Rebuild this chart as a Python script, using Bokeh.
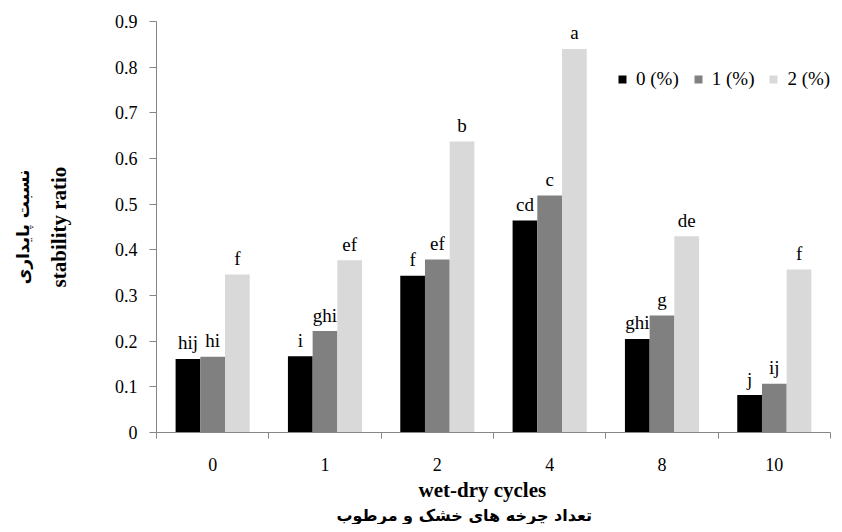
from bokeh.plotting import figure
from bokeh.models import (Range1d, FixedTicker, Title, ColumnDataSource,
                          CustomJSTickFormatter)
from bokeh.transform import dodge
from bokeh.core.properties import value
from bokeh.embed import file_html
from bokeh.resources import INLINE

# ---- data ----
cycles = ["0", "1", "2", "4", "8", "10"]
ratio_0pct = [0.161, 0.167, 0.343, 0.464, 0.205, 0.082]
ratio_1pct = [0.166, 0.222, 0.379, 0.519, 0.256, 0.107]
ratio_2pct = [0.346, 0.377, 0.637, 0.840, 0.430, 0.357]
letters_0pct = ["hij", "i", "f", "cd", "ghi", "j"]
letters_1pct = ["hi", "ghi", "ef", "c", "g", "ij"]
letters_2pct = ["f", "ef", "b", "a", "de", "f"]
series_names = ["0 (%)", "1 (%)", "2 (%)"]
y_ticks = [0.0, 0.1, 0.2, 0.3, 0.4, 0.5, 0.6, 0.7, 0.8, 0.9]
y_tick_labels = ["0", "0.1", "0.2", "0.3", "0.4", "0.5", "0.6", "0.7", "0.8", "0.9"]

colors = ["#000000", "#808080", "#d9d9d9"]
AXIS = "#868686"
SERIF = "Liberation Serif"

xpos = [i + 0.5 for i in range(len(cycles))]
bounds = list(range(len(cycles) + 1))

src = ColumnDataSource(dict(x=xpos, r0=ratio_0pct, r1=ratio_1pct, r2=ratio_2pct,
                            l0=letters_0pct, l1=letters_1pct, l2=letters_2pct))

p = figure(width=834, height=524, output_backend="svg", toolbar_location=None,
           x_range=Range1d(0, len(cycles)), y_range=Range1d(0, 0.9),
           min_border_left=147, min_border_right=4, min_border_top=21,
           min_border_bottom=92)
p.outline_line_color = None
p.xgrid.visible = False
p.ygrid.visible = False

bw = 0.22
offs = [-bw, 0.0, bw]
for k, (col, lab) in enumerate(zip(["r0", "r1", "r2"], ["l0", "l1", "l2"])):
    p.vbar(x=dodge("x", offs[k], range=p.x_range), top=col, width=bw,
           source=src, fill_color=colors[k], line_color=None,
           legend_label=series_names[k])
    p.text(x=dodge("x", offs[k], range=p.x_range), y=col, text=lab, source=src,
           text_font=value(SERIF), text_font_size="19px", text_align="center",
           text_baseline="alphabetic", y_offset=-16, text_color="black")

# ---- x axis ----
xa = p.xaxis[0]
xa.ticker = FixedTicker(ticks=xpos, minor_ticks=bounds)
xa.formatter = CustomJSTickFormatter(args=dict(cat_labels=cycles),
                                     code="return cat_labels[Math.floor(tick)];")
xa.axis_line_color = AXIS
xa.major_tick_line_color = None
xa.major_tick_out = 0
xa.major_tick_in = 0
xa.minor_tick_line_color = AXIS
xa.minor_tick_out = 6
xa.minor_tick_in = 0
xa.major_label_standoff = 19
xa.major_label_text_font = SERIF
xa.major_label_text_font_size = "18px"
xa.major_label_text_color = "black"

# ---- y axis ----
ya = p.yaxis[0]
ya.ticker = FixedTicker(ticks=y_ticks)
ya.formatter = CustomJSTickFormatter(
    args=dict(tv=y_ticks, tl=y_tick_labels),
    code="""let best = 0;
for (let i = 0; i < tv.length; i++) {
  if (Math.abs(tv[i] - tick) < Math.abs(tv[best] - tick)) best = i;
}
return tl[best];""")
ya.axis_line_color = AXIS
ya.major_tick_line_color = AXIS
ya.major_tick_out = 7
ya.major_tick_in = 0
ya.minor_tick_line_color = None
ya.major_label_standoff = 12
ya.major_label_text_font = SERIF
ya.major_label_text_font_size = "18px"
ya.major_label_text_color = "black"
ya.axis_label = "stability ratio"
ya.axis_label_text_font = SERIF
ya.axis_label_text_font_size = "21px"
ya.axis_label_text_font_style = "bold"
ya.axis_label_text_color = "black"
ya.axis_label_standoff = 41

# Axis titles (English + Persian)
p.add_layout(Title(text="نسبت پایداری", text_font="DejaVu Sans",
                   text_font_size="17px", text_font_style="bold",
                   text_color="black", align="center", standoff=21), "left")
p.add_layout(Title(text="wet-dry cycles", text_font=SERIF,
                   text_font_size="21px", text_font_style="bold",
                   text_color="black", align="left", offset=262,
                   standoff=4), "below")
p.add_layout(Title(text="تعداد چرخه های خشک و مرطوب", text_font="DejaVu Sans",
                   text_font_size="16px", text_font_style="bold",
                   text_color="black", align="left", offset=180,
                   standoff=0), "below")

# ---- legend ----
lg = p.legend[0]
lg.orientation = "horizontal"
lg.location = (461, 342)
lg.glyph_width = 10
lg.glyph_height = 10
lg.label_standoff = 9
lg.spacing = 14
lg.padding = 0
lg.margin = 0
lg.border_line_color = None
lg.background_fill_alpha = 0
lg.label_text_font = SERIF
lg.label_text_font_size = "19px"
lg.label_text_color = "black"

open("out.html", "w").write(file_html(p, INLINE))
